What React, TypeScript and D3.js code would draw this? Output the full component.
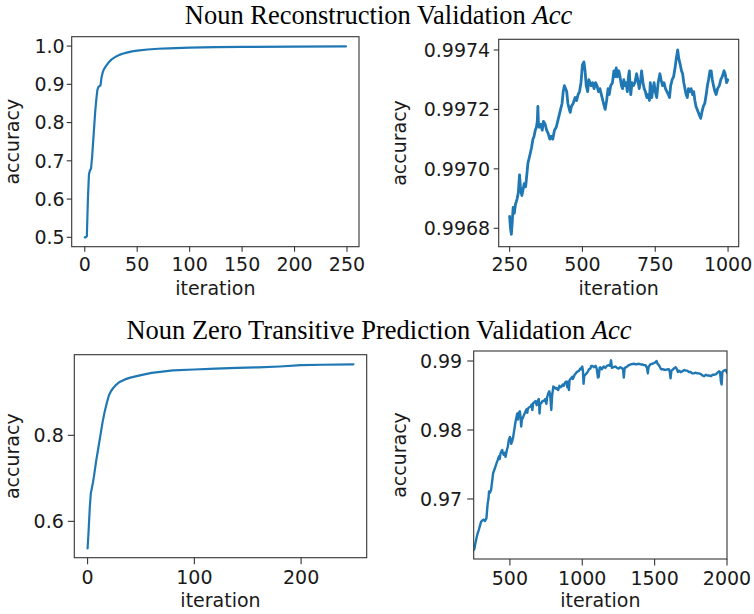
import React from "react";
import * as d3 from "d3";

// ---------- text ----------
const titleTop = "Noun Reconstruction Validation ";
const titleBottom = "Noun Zero Transitive Prediction Validation ";
const titleMath = "Acc";
const yLabel = "accuracy";
const xLabel = "iteration";

// ---------- data: Noun Reconstruction, iterations 0-249 ----------
const recIterA = [0, 1, 2, 3, 4, 5, 6, 7, 8, 9, 10, 11, 12, 13, 14, 15, 16, 17, 18, 20, 23, 26, 30, 33, 36, 40, 45, 50, 60, 70, 80, 100, 125, 150, 200, 249];
const recAccA = [0.5, 0.5, 0.503, 0.6, 0.665, 0.675, 0.68, 0.71, 0.75, 0.79, 0.83, 0.86, 0.885, 0.893, 0.895, 0.897, 0.918, 0.93, 0.938, 0.947, 0.958, 0.966, 0.973, 0.977, 0.98, 0.983, 0.986, 0.988, 0.991, 0.993, 0.994, 0.996, 0.997, 0.998, 0.9985, 0.999];

// ---------- data: Noun Reconstruction, iterations 250-999 ----------
const recIterB = [250, 253, 256, 259, 262, 266, 270, 276, 280, 284, 287, 290, 292, 296, 300, 305, 308, 313, 318, 325, 330, 334, 338, 342, 345, 347, 349, 352, 357, 362, 366, 372, 377, 382, 388, 393, 398, 404, 410, 415, 420, 425, 430, 434, 438, 442, 446, 450, 455, 458, 462, 468, 475, 480, 485, 490, 495, 500, 505, 509, 513, 518, 522, 526, 530, 535, 540, 545, 550, 555, 560, 565, 570, 575, 578, 583, 588, 592, 597, 603, 608, 612, 616, 620, 625, 629, 634, 638, 642, 646, 650, 654, 658, 661, 664, 666, 670, 675, 680, 686, 690, 695, 700, 703, 708, 712, 716, 721, 725, 730, 733, 738, 742, 746, 750, 755, 760, 766, 770, 775, 780, 785, 790, 795, 799, 803, 808, 813, 818, 822, 827, 831, 836, 840, 844, 848, 852, 856, 860, 864, 868, 873, 878, 882, 886, 890, 894, 898, 902, 906, 910, 915, 920, 925, 929, 933, 938, 942, 946, 950, 955, 959, 964, 970, 975, 980, 986, 990, 995, 999];
const recAccB = [0.99684, 0.9968, 0.99678, 0.99682, 0.99687, 0.99685, 0.99688, 0.9969, 0.99692, 0.99698, 0.99694, 0.99692, 0.99691, 0.99693, 0.99695, 0.99694, 0.99697, 0.99702, 0.99704, 0.99707, 0.9971, 0.99711, 0.99713, 0.99714, 0.99716, 0.99721, 0.99715, 0.99714, 0.99715, 0.99713, 0.99716, 0.99715, 0.99713, 0.99712, 0.9971, 0.99711, 0.9971, 0.99713, 0.99714, 0.99716, 0.99718, 0.9972, 0.99722, 0.99726, 0.99728, 0.99727, 0.99726, 0.99722, 0.9972, 0.99719, 0.99721, 0.99722, 0.99724, 0.99723, 0.99725, 0.99726, 0.99729, 0.99735, 0.99736, 0.99733, 0.99728, 0.99726, 0.9973, 0.99729, 0.99728, 0.99729, 0.99727, 0.99729, 0.99728, 0.99726, 0.99727, 0.99725, 0.99723, 0.99721, 0.9972, 0.99723, 0.99727, 0.99725, 0.99728, 0.99729, 0.99733, 0.99731, 0.99734, 0.99731, 0.99733, 0.99731, 0.99728, 0.99727, 0.9973, 0.99728, 0.99729, 0.99726, 0.99731, 0.99733, 0.99727, 0.99725, 0.99729, 0.99728, 0.99729, 0.99732, 0.9973, 0.99727, 0.9973, 0.99733, 0.99729, 0.99727, 0.99726, 0.99724, 0.99725, 0.99723, 0.99729, 0.99724, 0.99727, 0.99729, 0.99726, 0.99724, 0.99729, 0.99732, 0.9973, 0.99728, 0.99729, 0.99727, 0.99726, 0.99725, 0.99724, 0.99728, 0.9973, 0.99731, 0.99734, 0.99737, 0.9974, 0.99737, 0.99735, 0.99733, 0.99732, 0.99729, 0.99727, 0.99725, 0.99724, 0.99727, 0.99726, 0.99727, 0.99725, 0.99726, 0.99723, 0.99721, 0.9972, 0.99719, 0.99718, 0.99717, 0.99719, 0.99721, 0.99722, 0.99725, 0.99728, 0.9973, 0.99733, 0.99733, 0.9973, 0.99728, 0.99726, 0.99725, 0.99727, 0.99728, 0.9973, 0.99731, 0.99733, 0.99732, 0.99729, 0.9973];

// ---------- data: Noun Zero Transitive Prediction, iterations 0-249 ----------
const zeroIterA = [0, 1, 2, 3, 4, 5, 6, 8, 10, 12, 14, 16, 18, 20, 22, 24, 27, 30, 35, 40, 45, 50, 60, 70, 80, 100, 120, 140, 160, 180, 200, 220, 249];
const zeroAccA = [0.537, 0.58, 0.63, 0.665, 0.677, 0.69, 0.705, 0.74, 0.77, 0.8, 0.83, 0.855, 0.875, 0.893, 0.903, 0.91, 0.918, 0.924, 0.93, 0.934, 0.937, 0.94, 0.945, 0.948, 0.951, 0.953, 0.955, 0.957, 0.958, 0.96, 0.963, 0.964, 0.965];

// ---------- data: Noun Zero Transitive Prediction, iterations 250-2000 ----------
const zeroIterB = [250, 255, 262, 269, 277, 285, 293, 301, 310, 320, 328, 338, 343, 347, 352, 356, 362, 370, 377, 384, 392, 400, 408, 417, 425, 430, 435, 441, 447, 452, 458, 464, 470, 478, 486, 492, 500, 505, 509, 516, 523, 530, 539, 545, 551, 556, 560, 565, 569, 574, 578, 583, 592, 600, 608, 615, 620, 625, 633, 643, 650, 655, 661, 668, 677, 685, 694, 700, 705, 710, 717, 725, 735, 745, 752, 758, 765, 772, 778, 786, 792, 800, 808, 815, 822, 828, 834, 842, 850, 857, 865, 872, 880, 886, 892, 897, 900, 908, 912, 918, 924, 930, 936, 947, 955, 962, 970, 978, 986, 993, 1000, 1005, 1009, 1014, 1020, 1030, 1040, 1046, 1056, 1062, 1069, 1080, 1092, 1100, 1108, 1114, 1120, 1125, 1135, 1148, 1160, 1170, 1183, 1192, 1199, 1205, 1215, 1229, 1240, 1252, 1262, 1272, 1282, 1287, 1293, 1305, 1321, 1335, 1356, 1372, 1391, 1405, 1414, 1425, 1437, 1447, 1453, 1458, 1470, 1482, 1494, 1505, 1513, 1520, 1529, 1537, 1545, 1555, 1575, 1590, 1598, 1604, 1610, 1616, 1628, 1638, 1645, 1652, 1661, 1670, 1680, 1691, 1705, 1715, 1725, 1737, 1748, 1760, 1771, 1785, 1795, 1806, 1820, 1830, 1841, 1855, 1865, 1875, 1890, 1900, 1910, 1925, 1935, 1945, 1952, 1958, 1963, 1968, 1978, 1991, 2000];
const zeroAccB = [0.9626, 0.9628, 0.9636, 0.9643, 0.965, 0.9655, 0.9661, 0.9667, 0.9669, 0.967, 0.9668, 0.9672, 0.9685, 0.9694, 0.97, 0.9711, 0.9709, 0.9713, 0.9725, 0.9737, 0.9742, 0.9747, 0.9752, 0.9757, 0.9762, 0.9758, 0.9766, 0.9769, 0.9771, 0.9766, 0.9764, 0.9767, 0.9761, 0.977, 0.9776, 0.9785, 0.979, 0.9786, 0.978, 0.9784, 0.979, 0.98, 0.9812, 0.9818, 0.9824, 0.9815, 0.9822, 0.9826, 0.9827, 0.9818, 0.9805, 0.9815, 0.9819, 0.9823, 0.9827, 0.983, 0.9825, 0.9831, 0.9833, 0.9834, 0.9837, 0.9829, 0.9839, 0.984, 0.9842, 0.9836, 0.9843, 0.9845, 0.9824, 0.9838, 0.9839, 0.9842, 0.9842, 0.9845, 0.9838, 0.9848, 0.9853, 0.9856, 0.9852, 0.9829, 0.985, 0.9863, 0.9862, 0.986, 0.9861, 0.9859, 0.9858, 0.9864, 0.9862, 0.9863, 0.9866, 0.9864, 0.9868, 0.987, 0.987, 0.9862, 0.987, 0.9858, 0.9872, 0.9874, 0.9875, 0.9877, 0.9874, 0.988, 0.9882, 0.9884, 0.9885, 0.9886, 0.9889, 0.9888, 0.9892, 0.9885, 0.9867, 0.9878, 0.988, 0.9882, 0.9885, 0.9888, 0.9889, 0.9893, 0.9893, 0.9891, 0.9893, 0.9889, 0.9876, 0.9877, 0.989, 0.9891, 0.9888, 0.9892, 0.989, 0.9893, 0.9894, 0.9893, 0.9901, 0.989, 0.9891, 0.9892, 0.989, 0.9889, 0.9891, 0.989, 0.9888, 0.9876, 0.989, 0.9891, 0.9894, 0.9895, 0.9896, 0.9895, 0.9896, 0.9895, 0.9895, 0.9894, 0.9894, 0.989, 0.9882, 0.9891, 0.9895, 0.9896, 0.9897, 0.9898, 0.99, 0.9896, 0.9894, 0.9891, 0.9888, 0.9888, 0.9887, 0.9888, 0.9888, 0.9885, 0.9875, 0.9886, 0.9888, 0.989, 0.9891, 0.9889, 0.9884, 0.9886, 0.9884, 0.9885, 0.9887, 0.9886, 0.9886, 0.9884, 0.9884, 0.9882, 0.9882, 0.9883, 0.9882, 0.9882, 0.9881, 0.9879, 0.9878, 0.988, 0.9879, 0.9879, 0.9878, 0.988, 0.988, 0.9881, 0.9883, 0.9885, 0.9884, 0.987, 0.9866, 0.9884, 0.9886, 0.9887, 0.9883];

// ---------- ticks ----------
const recTicksXA = [0, 50, 100, 150, 200, 250];
const recTicksYA = [0.5, 0.6, 0.7, 0.8, 0.9, 1.0];
const recTicksXB = [250, 500, 750, 1000];
const recTicksYB = [0.9968, 0.997, 0.9972, 0.9974];
const zeroTicksXA = [0, 100, 200];
const zeroTicksYA = [0.6, 0.8];
const zeroTicksXB = [500, 1000, 1500, 2000];
const zeroTicksYB = [0.97, 0.98, 0.99];

const SERIF = "'Liberation Serif', 'Times New Roman', serif";
const SANS = "'DejaVu Sans', sans-serif";
const BLUE = "#1f77b4";
const FS = 19;

type Box = { l: number; r: number; t: number; b: number };

function Panel(props: {
  box: Box;
  xDomain: [number, number];
  yDomain: [number, number];
  xTicks: number[];
  yTicks: number[];
  yFmt: string;
  xs: number[];
  ys: number[];
  tickLen: number;
  yPad: number;
  xTickBase: number;
  xLabelBase: number;
  yLabelX: number;
  lw: number;
  id: string;
}) {
  const { box, xs, ys } = props;
  const x = d3.scaleLinear().domain(props.xDomain).range([box.l, box.r]);
  const y = d3.scaleLinear().domain(props.yDomain).range([box.b, box.t]);
  const pts: [number, number][] = xs.map((v, i) => [v, ys[i]]);
  const line = d3
    .line<[number, number]>()
    .x((d) => x(d[0]))
    .y((d) => y(d[1]));
  const fmt = d3.format(props.yFmt);
  const cx = (box.l + box.r) / 2;
  const cy = (box.t + box.b) / 2;
  return (
    <g>
      <defs>
        <clipPath id={props.id}>
          <rect x={box.l} y={box.t} width={box.r - box.l} height={box.b - box.t} />
        </clipPath>
      </defs>
      <path
        d={line(pts) || ""}
        fill="none"
        stroke={BLUE}
        strokeWidth={props.lw}
        strokeLinejoin="round"
        strokeLinecap="round"
        clipPath={`url(#${props.id})`}
      />
      <rect
        x={box.l}
        y={box.t}
        width={box.r - box.l}
        height={box.b - box.t}
        fill="none"
        stroke="#333"
        strokeWidth={1.1}
      />
      {props.xTicks.map((t) => (
        <g key={"x" + t}>
          <line x1={x(t)} x2={x(t)} y1={box.b} y2={box.b + props.tickLen} stroke="#333" strokeWidth={1.1} />
          <text
            x={x(t)}
            y={box.b + props.xTickBase}
            textAnchor="middle"
            fontFamily={SANS}
            fontSize={FS}
            fill="#1a1a1a"
          >
            {d3.format("d")(t)}
          </text>
        </g>
      ))}
      {props.yTicks.map((t) => (
        <g key={"y" + t}>
          <line x1={box.l - props.tickLen} x2={box.l} y1={y(t)} y2={y(t)} stroke="#333" strokeWidth={1.1} />
          <text
            x={box.l - props.tickLen - props.yPad}
            y={y(t) + FS * 0.36}
            textAnchor="end"
            fontFamily={SANS}
            fontSize={FS}
            fill="#1a1a1a"
          >
            {fmt(t)}
          </text>
        </g>
      ))}
      <text
        x={cx}
        y={box.b + props.xLabelBase}
        textAnchor="middle"
        fontFamily={SANS}
        fontSize={FS}
        fill="#1a1a1a"
      >
        {xLabel}
      </text>
      <text
        transform={`translate(${props.yLabelX},${cy}) rotate(-90)`}
        textAnchor="middle"
        fontFamily={SANS}
        fontSize={FS}
        fill="#1a1a1a"
      >
        {yLabel}
      </text>
    </g>
  );
}

export default function App() {
  return (
    <div style={{ position: "absolute", left: 0, top: 0 }}>
      <svg width={754} height={614} style={{ display: "block", background: "#fff" }}>
        <text x={378.5} y={24} textAnchor="middle" fontFamily={SERIF} fontSize={26.5} fill="#000">
          {titleTop}
          <tspan fontStyle="italic">{titleMath}</tspan>
        </text>
        <text x={379} y={338.5} textAnchor="middle" fontFamily={SERIF} fontSize={26.5} fill="#000">
          {titleBottom}
          <tspan fontStyle="italic">{titleMath}</tspan>
        </text>

        <Panel
          id="c1"
          box={{ l: 71.7, r: 359, t: 36.7, b: 246.7 }}
          xDomain={[-12.45, 261.45]}
          yDomain={[0.4755, 1.0245]}
          xTicks={recTicksXA}
          yTicks={recTicksYA}
          yFmt=".1f"
          xs={recIterA}
          ys={recAccA}
          tickLen={5}
          yPad={2}
          xTickBase={24}
          xLabelBase={48.5}
          yLabelX={19}
          lw={2.2}
        />
        <Panel
          id="c2"
          box={{ l: 498.7, r: 738.7, t: 39.3, b: 246.7 }}
          xDomain={[212.5, 1036.5]}
          yDomain={[0.996738, 0.997436]}
          xTicks={recTicksXB}
          yTicks={recTicksYB}
          yFmt=".4f"
          xs={recIterB}
          ys={recAccB}
          tickLen={5}
          yPad={3.5}
          xTickBase={24.5}
          xLabelBase={48.5}
          yLabelX={406}
          lw={2.8}
        />
        <Panel
          id="c3"
          box={{ l: 74.3, r: 366.7, t: 354.7, b: 557.7 }}
          xDomain={[-12.45, 261.45]}
          yDomain={[0.5155, 0.9874]}
          xTicks={zeroTicksXA}
          yTicks={zeroTicksYA}
          yFmt=".1f"
          xs={zeroIterA}
          ys={zeroAccA}
          tickLen={6.5}
          yPad={4}
          xTickBase={26}
          xLabelBase={49}
          yLabelX={19}
          lw={2.2}
        />
        <Panel
          id="c4"
          box={{ l: 473.7, r: 727, t: 351, b: 559 }}
          xDomain={[250, 2000]}
          yDomain={[0.9613, 0.99145]}
          xTicks={zeroTicksXB}
          yTicks={zeroTicksYB}
          yFmt=".2f"
          xs={zeroIterB}
          ys={zeroAccB}
          tickLen={6.5}
          yPad={5}
          xTickBase={25.5}
          xLabelBase={48}
          yLabelX={406}
          lw={2.4}
        />
      </svg>
    </div>
  );
}
